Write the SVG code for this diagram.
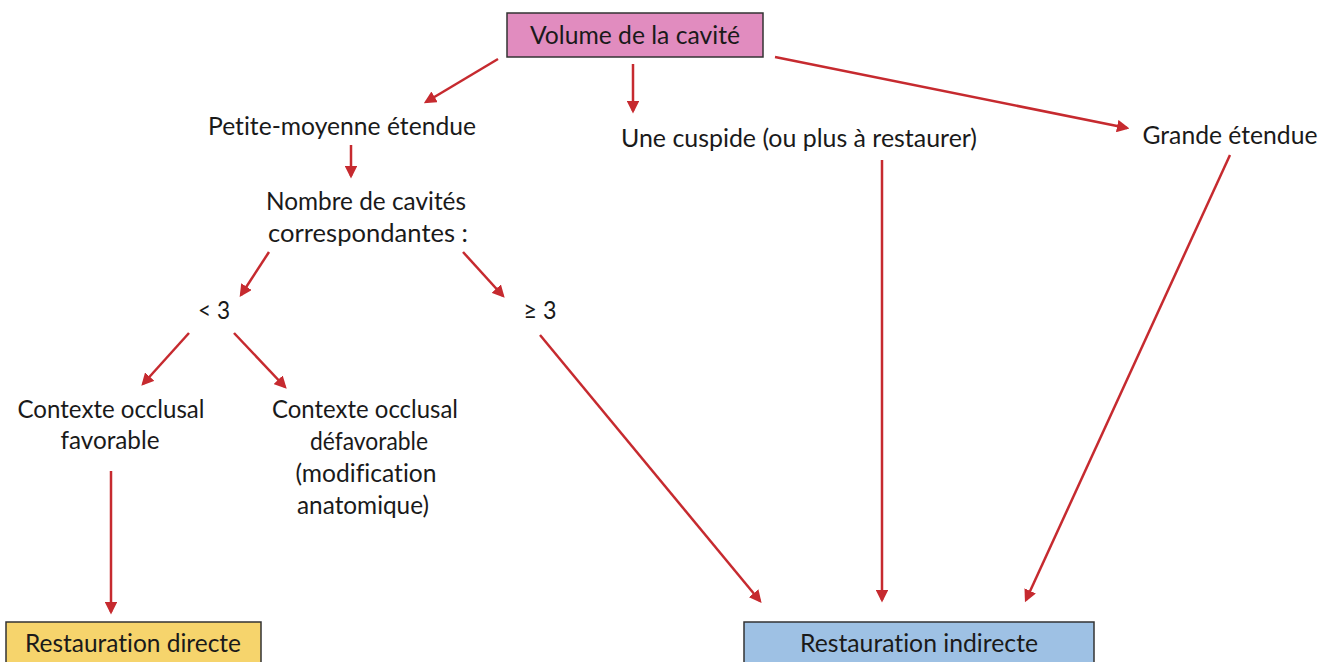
<svg xmlns="http://www.w3.org/2000/svg" width="1336" height="662" viewBox="0 0 1336 662">
<defs>
<marker id="ah" markerWidth="5" markerHeight="5" refX="4" refY="2.5" orient="auto" markerUnits="strokeWidth">
<path d="M0,0 L5,2.5 L0,5 z" fill="#c62a2f"/>
</marker>
<style>
text{font-family:Lato,"Open Sans",sans-serif;font-size:25px;fill:#1a1a1a;text-anchor:middle;font-variant-ligatures:none}
.c{stroke:#c62a2f;stroke-width:2.5;fill:none;marker-end:url(#ah)}
.box{stroke:#333;stroke-width:1.5}
</style>
</defs>
<rect width="1336" height="662" fill="#fff"/>
<g id="connectors">
<line class="c" x1="498" y1="59" x2="426" y2="102"/>
<line class="c" x1="633" y1="64" x2="633" y2="111"/>
<line class="c" x1="775" y1="57" x2="1127" y2="128"/>
<line class="c" x1="351" y1="145" x2="351" y2="176"/>
<line class="c" x1="269" y1="252" x2="241" y2="295"/>
<line class="c" x1="463" y1="252" x2="503" y2="296"/>
<line class="c" x1="189" y1="333" x2="143" y2="384"/>
<line class="c" x1="234" y1="333" x2="285" y2="387"/>
<line class="c" x1="540" y1="335" x2="760" y2="601"/>
<line class="c" x1="111" y1="471" x2="111" y2="612"/>
<line class="c" x1="882" y1="160" x2="882" y2="600"/>
<line class="c" x1="1230" y1="155" x2="1026" y2="600"/>
</g>
<g id="volume">
<rect class="box" x="507" y="13" width="256" height="44" fill="#e18cbf"/>
<text x="635" y="44" textLength="210" lengthAdjust="spacingAndGlyphs">Volume de la cavité</text>
</g>
<g id="petite">
<text x="342" y="135" textLength="268" lengthAdjust="spacingAndGlyphs">Petite-moyenne étendue</text>
</g>
<g id="cuspide">
<text x="799" y="147" textLength="356" lengthAdjust="spacingAndGlyphs">Une cuspide (ou plus à restaurer)</text>
</g>
<g id="grande">
<text x="1230" y="144" textLength="175" lengthAdjust="spacingAndGlyphs">Grande étendue</text>
</g>
<g id="nombre">
<text x="366" y="210" textLength="200" lengthAdjust="spacingAndGlyphs">Nombre de cavités</text>
<text x="368" y="242" textLength="200" lengthAdjust="spacingAndGlyphs">correspondantes :</text>
</g>
<g id="lt3">
<text x="214" y="319" textLength="32" lengthAdjust="spacingAndGlyphs">&lt; 3</text>
</g>
<g id="ge3">
<text x="540" y="319" textLength="33" lengthAdjust="spacingAndGlyphs">≥ 3</text>
</g>
<g id="favorable">
<text x="111" y="418" textLength="187" lengthAdjust="spacingAndGlyphs">Contexte occlusal</text>
<text x="110" y="449" textLength="99" lengthAdjust="spacingAndGlyphs">favorable</text>
</g>
<g id="defavorable">
<text x="365" y="418" textLength="186" lengthAdjust="spacingAndGlyphs">Contexte occlusal</text>
<text x="369" y="450" textLength="118" lengthAdjust="spacingAndGlyphs">défavorable</text>
<text x="366" y="482" textLength="141" lengthAdjust="spacingAndGlyphs">(modification</text>
<text x="363" y="514" textLength="132" lengthAdjust="spacingAndGlyphs">anatomique)</text>
</g>
<g id="directe">
<rect class="box" x="6" y="622" width="255" height="50" fill="#f6d46c"/>
<text x="133" y="652" textLength="216" lengthAdjust="spacingAndGlyphs">Restauration directe</text>
</g>
<g id="indirecte">
<rect class="box" x="744" y="622" width="350" height="50" fill="#9ec1e4"/>
<text x="919" y="652" textLength="238" lengthAdjust="spacingAndGlyphs">Restauration indirecte</text>
</g>
</svg>
